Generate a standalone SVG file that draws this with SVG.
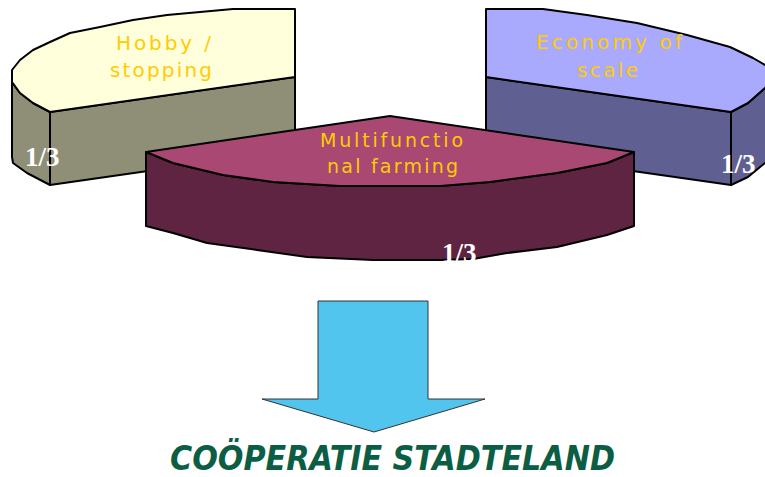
<svg xmlns="http://www.w3.org/2000/svg" width="765" height="477" viewBox="0 0 765 477">
<style>
.edge{stroke:#000;stroke-width:2;stroke-linejoin:round}
.lbl{font-family:"DejaVu Sans",sans-serif;font-size:20px;fill:#FFCC00}
.frac{font-family:"Liberation Serif",serif;font-weight:bold;font-size:27px;fill:#fff}
</style>
<rect width="765" height="477" fill="#fff"/>
<g id="hobby">
<path class="edge" fill="#8F8F77" d="M50,112 L295,77 L295,150 L50,185 Z"/>
<path class="edge" fill="#8F8F77" d="M12,82 L20,93 L33,103 L50,112 L50,185 L27,173 L13,163 L12,157 Z"/>
<path class="edge" fill="#FFFFDC" d="M295,9 L295,77 L50,112 L33,103 L20,93 L12,82 L12,70 L20,60 L33,50 L50,42 L70,33 L100,27 L133,20 L167,15 L200,12 L233,9 Z"/>
<text class="lbl" x="116" y="50" textLength="95" lengthAdjust="spacing">Hobby /</text>
<text class="lbl" x="110" y="77" textLength="102" lengthAdjust="spacing">stopping</text>
<text class="frac" x="25" y="166">1/3</text>
</g>
<g id="economy">
<path class="edge" fill="#5F5F91" d="M486,77 L731,112 L731,185 L486,150 Z"/>
<path class="edge" fill="#5F5F91" d="M731,112 L748,103 L765,88 L775,80 L775,160 L765,163 L748,177 L731,185 Z"/>
<path class="edge" fill="#A9A9FE" d="M486,9 L486,77 L731,112 L748,103 L765,88 L775,78 L775,70 L765,65 L753,58 L730,47 L687,35 L637,23 L587,15 L543,9 Z"/>
<text class="lbl" x="536" y="49" textLength="146" lengthAdjust="spacing">Economy of</text>
<text class="lbl" x="577" y="77" textLength="61" lengthAdjust="spacing">scale</text>
<text class="frac" x="721" y="173">1/3</text>
</g>
<g id="multifunctional">
<path class="edge" fill="#5F2442" d="M146,152 L173,163 L223,175 L273,182 L340,186 L440,186 L490,182 L557,173 L607,163 L634,152 L634,226 L607,235 L557,247 L507,253 L473,259 L440,260 L373,260 L307,257 L257,250 L207,243 L173,233 L146,226 Z"/>
<path class="edge" fill="#A94873" d="M146,152 L390,116 L634,152 L607,163 L557,173 L490,182 L440,186 L340,186 L273,182 L223,175 L173,163 Z"/>
<text class="lbl" style="font-size:19px" x="320" y="147" textLength="143" lengthAdjust="spacing">Multifunctio</text>
<text class="lbl" style="font-size:19px" x="327" y="173" textLength="131" lengthAdjust="spacing">nal farming</text>
<text class="frac" x="442" y="262">1/3</text>
</g>
<g id="connectors">
<path id="arrow" d="M318,301 L428,301 L428,399 L485,399 L374,432 L262,399 L318,399 Z" fill="#52C5EE" stroke="#333" stroke-width="1"/>
</g>
<g id="title">
<text x="170" y="470" textLength="445" lengthAdjust="spacingAndGlyphs" style="font-family:'DejaVu Sans Condensed','DejaVu Sans',sans-serif;font-weight:bold;font-style:italic;font-size:33px;fill:#0B5E43">COÖPERATIE STADTELAND</text>
</g>
</svg>
